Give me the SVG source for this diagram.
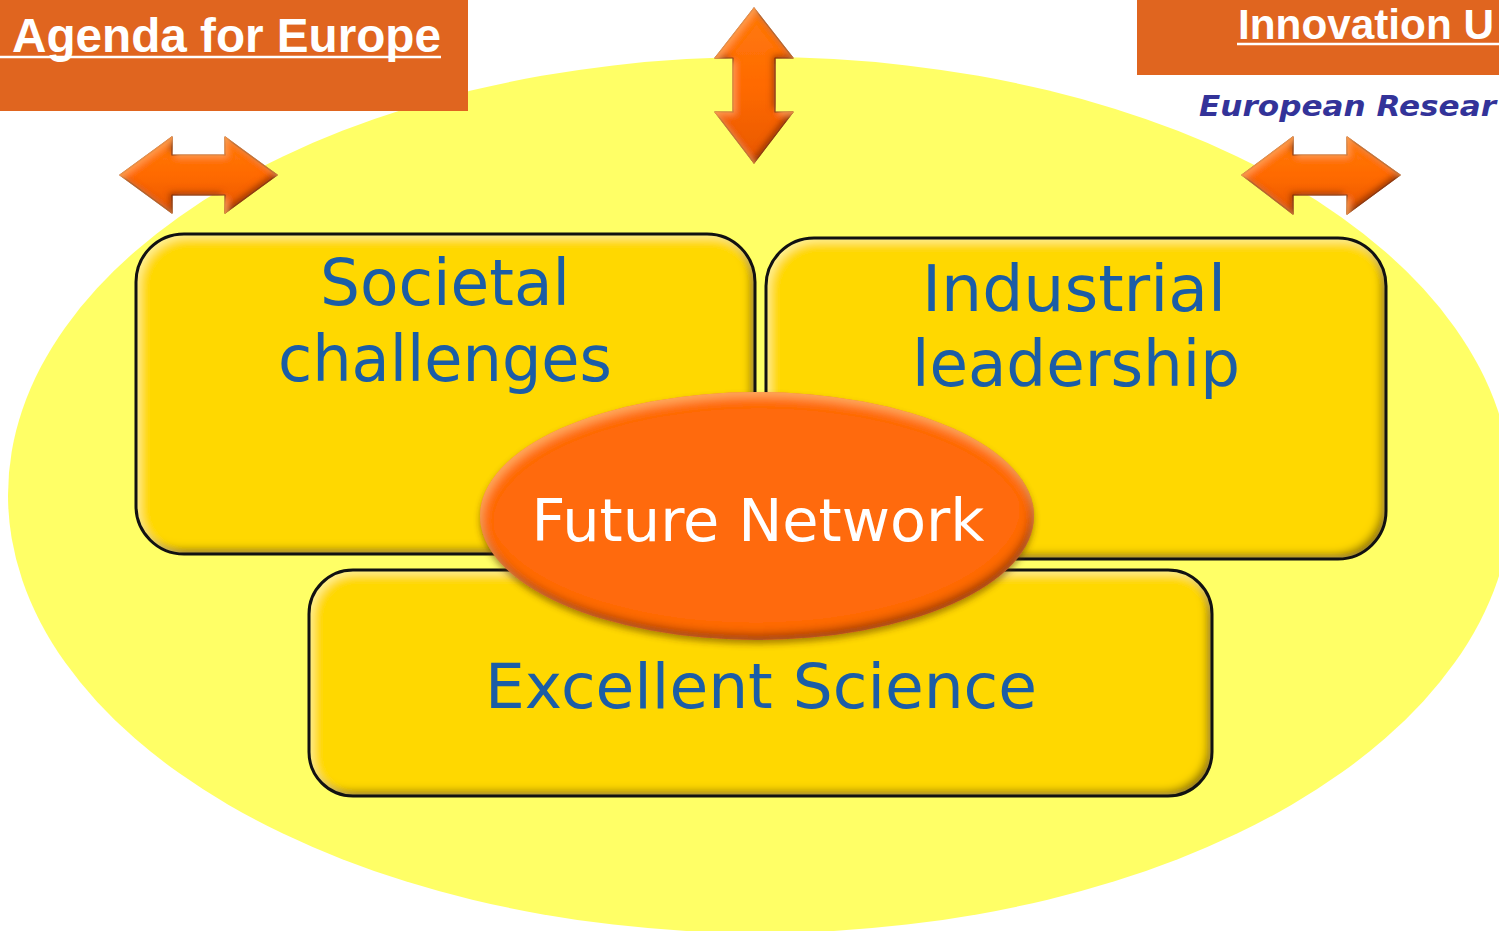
<svg xmlns="http://www.w3.org/2000/svg" width="1499" height="931" viewBox="0 0 1499 931">
<style>
.hdr{fill:#E0651F}
.hdrtxt{font-family:"Liberation Sans",Arial,sans-serif;font-weight:bold;fill:#ffffff}
.era{font-family:"DejaVu Sans",Verdana,sans-serif;font-weight:bold;font-style:italic;fill:#333399}
.boxfill{fill:#FFD800}
.boxline{fill:none;stroke:#111;stroke-width:3}
.lbl{font-family:"DejaVu Sans",Verdana,sans-serif;fill:#1B5DA6;text-anchor:middle}
.fn{font-family:"DejaVu Sans",Verdana,sans-serif;fill:#ffffff;text-anchor:middle}
.arrow{fill:url(#arrGrad);stroke:#7a2e00;stroke-width:1.2;stroke-linejoin:round}
</style>
<defs>
<filter id="bevel" x="-5%" y="-5%" width="110%" height="110%">
<feGaussianBlur in="SourceAlpha" stdDeviation="4" result="b"/>
<feOffset in="b" dx="-5" dy="-5" result="o1"/>
<feComposite in="SourceAlpha" in2="o1" operator="out" result="r1"/>
<feFlood flood-color="#6a5000" flood-opacity="0.85"/>
<feComposite in2="r1" operator="in" result="dark"/>
<feOffset in="b" dx="4" dy="4" result="o2"/>
<feComposite in="SourceAlpha" in2="o2" operator="out" result="r2"/>
<feFlood flood-color="#FFF59A" flood-opacity="0.9"/>
<feComposite in2="r2" operator="in" result="light"/>
<feMerge><feMergeNode in="SourceGraphic"/><feMergeNode in="dark"/><feMergeNode in="light"/></feMerge>
</filter>
<filter id="bevelO" x="-5%" y="-10%" width="110%" height="120%">
<feGaussianBlur in="SourceAlpha" stdDeviation="5" result="b"/>
<feOffset in="b" dx="-3" dy="-6" result="o1"/>
<feComposite in="SourceAlpha" in2="o1" operator="out" result="r1"/>
<feFlood flood-color="#8a3300" flood-opacity="0.9"/>
<feComposite in2="r1" operator="in" result="dark"/>
<feOffset in="b" dx="2" dy="5" result="o2"/>
<feComposite in="SourceAlpha" in2="o2" operator="out" result="r2"/>
<feFlood flood-color="#FFB060" flood-opacity="0.9"/>
<feComposite in2="r2" operator="in" result="light"/>
<feGaussianBlur in="SourceAlpha" stdDeviation="3" result="sb"/>
<feOffset in="sb" dx="0" dy="4" result="so"/>
<feFlood flood-color="#5a3000" flood-opacity="0.5"/>
<feComposite in2="so" operator="in" result="shadow"/>
<feMerge><feMergeNode in="shadow"/><feMergeNode in="SourceGraphic"/><feMergeNode in="dark"/><feMergeNode in="light"/></feMerge>
</filter>
<filter id="bevelA" x="-10%" y="-10%" width="120%" height="120%">
<feGaussianBlur in="SourceAlpha" stdDeviation="3" result="b"/>
<feOffset in="b" dx="-3" dy="-3" result="o1"/>
<feComposite in="SourceAlpha" in2="o1" operator="out" result="r1"/>
<feFlood flood-color="#8a3000" flood-opacity="0.9"/>
<feComposite in2="r1" operator="in" result="dark"/>
<feOffset in="b" dx="3" dy="3" result="o2"/>
<feComposite in="SourceAlpha" in2="o2" operator="out" result="r2"/>
<feFlood flood-color="#FFA050" flood-opacity="0.9"/>
<feComposite in2="r2" operator="in" result="light"/>
<feMerge><feMergeNode in="SourceGraphic"/><feMergeNode in="dark"/><feMergeNode in="light"/></feMerge>
</filter>
<linearGradient id="arrGrad" x1="0" y1="0" x2="0" y2="1">
<stop offset="0" stop-color="#FF7A10"/>
<stop offset="0.5" stop-color="#FF6A00"/>
<stop offset="1" stop-color="#E85800"/>
</linearGradient>
</defs>

<rect x="0" y="0" width="1499" height="931" fill="#ffffff"/>

<!-- background ellipse -->
<g id="background">
<ellipse cx="760" cy="495" rx="752" ry="438" fill="#FFFF66"/>
</g>

<!-- header boxes -->
<g id="agenda">
<rect class="hdr" x="0" y="0" width="468" height="111"/>
<text class="hdrtxt" x="12" y="52" font-size="48" textLength="429" lengthAdjust="spacingAndGlyphs">Agenda for Europe</text>
<line x1="0" y1="57" x2="441" y2="57" stroke="#ffffff" stroke-width="2.5"/>
</g>
<g id="innovation">
<rect class="hdr" x="1137" y="0" width="362" height="75"/>
<text class="hdrtxt" x="1238" y="39" font-size="42" textLength="256" lengthAdjust="spacingAndGlyphs">Innovation U</text>
<line x1="1237" y1="44" x2="1499" y2="44" stroke="#ffffff" stroke-width="2.5"/>
</g>
<g id="era">
<text class="era" x="1199" y="116" font-size="29" textLength="297" lengthAdjust="spacingAndGlyphs">European Resear</text>
</g>

<!-- connectors: double-headed arrows -->
<g id="connectors">
<polygon class="arrow" filter="url(#bevelA)" points="120,175 172,137 172,155 225,155 225,137 277,175 225,213 225,195 172,195 172,213"/>
<polygon class="arrow" filter="url(#bevelA)" points="1242,175 1293,137 1293,155 1347,155 1347,137 1400,175 1347,214 1347,195 1293,195 1293,214"/>
<polygon class="arrow" filter="url(#bevelA)" points="754,8 793,58 775,58 775,112 793,112 754,163 715,112 733,112 733,58 715,58"/>
</g>

<!-- Societal challenges -->
<g id="societal">
<rect class="boxfill" filter="url(#bevel)" x="136" y="234" width="619" height="320" rx="48" ry="48"/>
<rect class="boxline" x="136" y="234" width="619" height="320" rx="48" ry="48"/>
<text class="lbl" x="445" y="305" font-size="64" textLength="250" lengthAdjust="spacingAndGlyphs">Societal</text>
<text class="lbl" x="445" y="381" font-size="64" textLength="334" lengthAdjust="spacingAndGlyphs">challenges</text>
</g>

<!-- Industrial leadership -->
<g id="industrial">
<rect class="boxfill" filter="url(#bevel)" x="766" y="238" width="620" height="321" rx="48" ry="48"/>
<rect class="boxline" x="766" y="238" width="620" height="321" rx="48" ry="48"/>
<text class="lbl" x="1074" y="311" font-size="64" textLength="304" lengthAdjust="spacingAndGlyphs">Industrial</text>
<text class="lbl" x="1076" y="386" font-size="64" textLength="328" lengthAdjust="spacingAndGlyphs">leadership</text>
</g>

<!-- Excellent Science -->
<g id="excellent">
<rect class="boxfill" filter="url(#bevel)" x="309" y="570" width="903" height="226" rx="44" ry="44"/>
<rect class="boxline" x="309" y="570" width="903" height="226" rx="44" ry="44"/>
<text class="lbl" x="761" y="708" font-size="63" textLength="552" lengthAdjust="spacingAndGlyphs">Excellent Science</text>
</g>

<!-- Future Network -->
<g id="future">
<ellipse cx="757" cy="516" rx="277" ry="124" fill="#FF6A08" filter="url(#bevelO)"/>
<text class="fn" x="758" y="541" font-size="58" textLength="453" lengthAdjust="spacingAndGlyphs">Future Network</text>
</g>
</svg>
